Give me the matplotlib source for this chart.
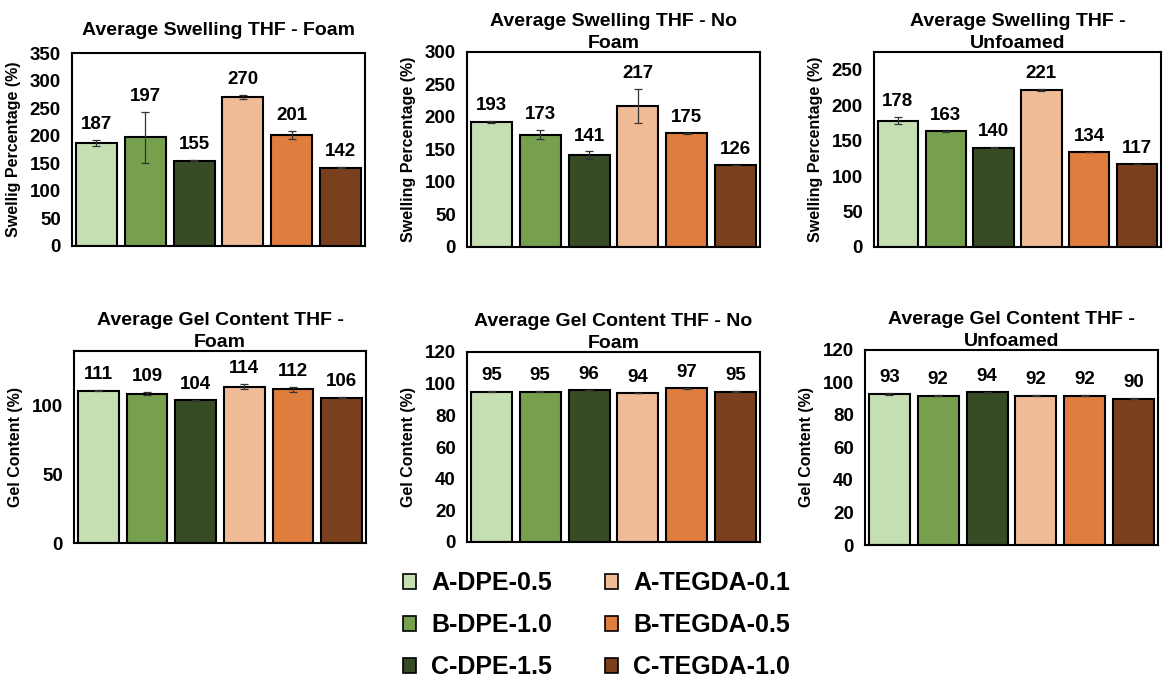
import numpy as np
import matplotlib.pyplot as plt
from matplotlib.patches import Patch

plt.rcParams['font.family'] = ['Liberation Sans', 'DejaVu Sans']
plt.rcParams['font.weight'] = 'bold'

samples = ['A-DPE-0.5', 'B-DPE-1.0', 'C-DPE-1.5', 'A-TEGDA-0.1', 'B-TEGDA-0.5', 'C-TEGDA-1.0']
colors = ['#c5dfb3', '#76a04d', '#374c25', '#f0bc98', '#de7d3e', '#7a401d']

# swelling (%) and error bars
swell_foam = [187, 197, 155, 270, 201, 142]
swell_foam_err = [6, 46, 1.5, 4, 7, 0.5]
swell_nofoam = [193, 173, 141, 217, 175, 126]
swell_nofoam_err = [1.5, 7, 6, 26, 1, 0.5]
swell_unfoamed = [178, 163, 140, 221, 134, 117]
swell_unfoamed_err = [5, 0.5, 1, 1.5, 0.5, 0.5]

# gel content (%) and error bars
gel_foam = [111, 109, 104, 114, 112, 106]
gel_foam_err = [0.3, 1, 0.3, 2, 2, 0.6]
gel_nofoam = [95, 95, 96, 94, 97, 95]
gel_nofoam_err = [0.2, 0.2, 0.2, 0.2, 0.2, 0.2]
gel_unfoamed = [93, 92, 94, 92, 92, 90]
gel_unfoamed_err = [0.6, 0.2, 0.2, 0.2, 0.2, 0.2]

W, H = 1163, 686
fig = plt.figure(figsize=(W / 100, H / 100), dpi=100)


def px_axes(left, top, right, bottom):
    return fig.add_axes([left / W, 1 - bottom / H, (right - left) / W, (bottom - top) / H])


def bar_panel(ax, vals, errs, title, ylabel, ymax, ystep, tpad=3):
    x = np.arange(len(vals))
    ax.bar(x, vals, width=0.84, color=colors, edgecolor='black', linewidth=1.5, zorder=2)
    ax.errorbar(x, vals, yerr=errs, fmt='none', ecolor='#333333', elinewidth=0.9,
                capsize=3, capthick=0.9, zorder=3)
    for i, (v, e) in enumerate(zip(vals, errs)):
        ax.annotate(str(v), (i, v + e), xytext=(0, 5), textcoords='offset points',
                    ha='center', va='bottom', fontsize=13.5, fontweight='bold')
    ax.set_xlim(-0.5, len(vals) - 0.5)
    ax.set_ylim(0, ymax)
    ax.set_yticks(np.arange(0, ymax + 0.1, ystep))
    ax.set_xticks([])
    ax.tick_params(axis='y', length=0, labelsize=13.5, pad=8)
    for lab in ax.get_yticklabels():
        lab.set_fontweight('bold')
    for sp in ax.spines.values():
        sp.set_linewidth(1.5)
    ax.set_title(title, fontsize=14, fontweight='bold', linespacing=1.35, pad=tpad)
    ax.set_ylabel(ylabel, fontsize=11.5, fontweight='bold', labelpad=6)


ax1 = px_axes(72, 53, 365, 246)
bar_panel(ax1, swell_foam, swell_foam_err, 'Average Swelling THF - Foam',
          'Swellig Percentage (%)', 350, 50, tpad=13)
ax2 = px_axes(467, 52, 760, 247)
bar_panel(ax2, swell_nofoam, swell_nofoam_err, 'Average Swelling THF - No\nFoam',
          'Swelling Percentage (%)', 300, 50)
ax3 = px_axes(874, 52, 1161, 247)
bar_panel(ax3, swell_unfoamed, swell_unfoamed_err, 'Average Swelling THF -\nUnfoamed',
          'Swelling Percentage (%)', 275, 50)
ax4 = px_axes(74, 351, 366, 543)
bar_panel(ax4, gel_foam, gel_foam_err, 'Average Gel Content THF -\nFoam',
          'Gel Content (%)', 140, 50, tpad=2)
ax5 = px_axes(467, 352, 760, 542)
bar_panel(ax5, gel_nofoam, gel_nofoam_err, 'Average Gel Content THF - No\nFoam',
          'Gel Content (%)', 120, 20, tpad=2)
ax6 = px_axes(865, 350, 1158, 545)
bar_panel(ax6, gel_unfoamed, gel_unfoamed_err, 'Average Gel Content THF -\nUnfoamed',
          'Gel Content (%)', 120, 20, tpad=3)

handles = [Patch(facecolor=c, edgecolor='black', linewidth=1.2) for c in colors]
fig.legend(handles, samples, ncol=2, loc='upper left', bbox_to_anchor=(380 / W, 1 - 549 / H),
           frameon=False, prop={'size': 18, 'weight': 'bold'},
           handlelength=0.55, handleheight=0.55, handletextpad=0.6,
           labelspacing=0.72, columnspacing=2.1)

fig.savefig('out.png', dpi=100)
